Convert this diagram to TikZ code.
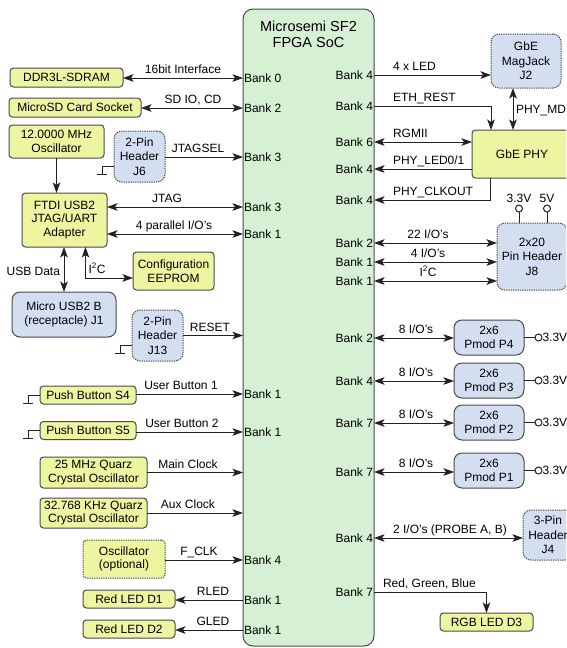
\documentclass[tikz,border=0pt]{standalone}
\usepackage{fontspec}
\setmainfont{Liberation Sans}
\usetikzlibrary{arrows.meta}
\definecolor{yfill}{HTML}{EEF5A0}
\definecolor{bfill}{HTML}{D3DEF1}
\definecolor{gfill}{HTML}{D5F0D3}
\definecolor{edgec}{HTML}{4A4A4A}
\definecolor{linec}{HTML}{222222}
\begin{document}
\begin{tikzpicture}[x=1pt,y=-1pt, font=\fontsize{12}{13.5}\selectfont,
  every node/.style={inner sep=0pt, outer sep=0pt},
  blk/.style={draw=edgec, line width=1pt, align=center},
  ylw/.style={blk, fill=yfill, rounded corners=3.5pt},
  blu/.style={blk, fill=bfill, rounded corners=8pt},
  dsh/.style={dash pattern=on 1.3pt off 1pt},
  hdr/.style={blu, dsh, font=\fontsize{12}{14.5}\selectfont},
  bankl/.style={anchor=west},
  bankr/.style={anchor=east},
  lbl/.style={anchor=base},
  lblw/.style={anchor=base west},
  ln/.style={line width=1pt, draw=linec},
  arr/.style={ln, -{Stealth[length=10.5pt,width=7.5pt,inset=2.5pt]}},
  dbl/.style={ln, {Stealth[length=10.5pt,width=7.5pt,inset=2.5pt]}-{Stealth[length=10.5pt,width=7.5pt,inset=2.5pt]}},
  gnd/.pic={\draw[ln] (0,0) -- (-12,0) -- (-12,8); \draw[ln] (-17,8) -- (-7,8);},
  pu/.style={draw=linec, line width=1pt, circle, minimum size=7pt, fill=white}
]
\useasboundingbox (0,0) rectangle (566,648);
\clip (0,0) rectangle (566,648);
\fill[white] (0,0) rectangle (566,648);

% FPGA
\node[blk, fill=gfill, rounded corners=10pt, minimum width=131pt, minimum height=637pt] (fpga) at (308.5,327.5) {};
\node[font=\fontsize{14.5}{16}\selectfont, align=center] (title) at (308.5,34) {Microsemi SF2\\FPGA SoC};

% left boxes
\node[ylw, minimum width=113pt, minimum height=19pt] (ddr) at (66.5,77.5) {DDR3L-SDRAM};
\node[ylw, minimum width=132pt, minimum height=19pt] (sd) at (75,107.5) {MicroSD Card Socket};
\node[ylw, minimum width=95pt, minimum height=33pt] (osc12) at (56.5,141.5) {12.0000 MHz\\Oscillator};
\node[hdr, minimum width=51pt, minimum height=51pt] (j6) at (139.5,156.5) {2-Pin\\Header\\J6};
\node[ylw, minimum width=85pt, minimum height=54pt] (ftdi) at (64.5,220) {FTDI USB2\\JTAG/UART\\Adapter};
\node[ylw, minimum width=81pt, minimum height=38pt] (eeprom) at (173.5,271) {Configuration\\EEPROM};
\node[blu, minimum width=104pt, minimum height=45pt] (usbb) at (64,314.5) {Micro USB2 B\\(receptacle) J1};
\node[hdr, minimum width=51pt, minimum height=51pt] (j13) at (157.5,335.5) {2-Pin\\Header\\J13};
\node[ylw, minimum width=96pt, minimum height=18pt] (s4) at (88,395) {Push Button S4};
\node[ylw, minimum width=96pt, minimum height=18pt] (s5) at (88,430.5) {Push Button S5};
\node[ylw, minimum width=107pt, minimum height=31pt] (osc25) at (93.5,472.5) {25 MHz Quarz\\Crystal Oscillator};
\node[ylw, minimum width=107pt, minimum height=30pt] (osc32) at (93.5,513) {32.768 KHz Quarz\\Crystal Oscillator};
\node[ylw, dsh, minimum width=82pt, minimum height=38pt] (oscopt) at (124,559) {Oscillator\\(optional)};
\node[ylw, minimum width=92pt, minimum height=18pt] (led1) at (129,599) {Red LED D1};
\node[ylw, minimum width=92pt, minimum height=18pt] (led2) at (129,629) {Red LED D2};

% right boxes
\node[hdr, minimum width=70pt, minimum height=54pt] (magjack) at (526,61) {GbE\\MagJack\\J2};
\node[ylw, minimum width=100pt, minimum height=48pt] (phy) at (522,154) {GbE PHY};
\node[hdr, minimum width=70pt, minimum height=67pt] (j8) at (532,256.5) {2x20\\Pin Header\\J8};
\node[blu, minimum width=70pt, minimum height=35pt] (p4) at (489,337.5) {2x6\\Pmod P4};
\node[blu, minimum width=70pt, minimum height=35pt] (p3) at (489,380.5) {2x6\\Pmod P3};
\node[blu, minimum width=70pt, minimum height=35pt] (p2) at (489,422.5) {2x6\\Pmod P2};
\node[blu, minimum width=70pt, minimum height=35pt] (p1) at (489,470.5) {2x6\\Pmod P1};
\node[hdr, minimum width=50pt, minimum height=50pt] (j4) at (548,535) {3-Pin\\Header\\J4};
\node[ylw, minimum width=93pt, minimum height=18pt] (rgb) at (486.5,622) {RGB LED D3};

% left bank labels
\node[bankl] (bL1) at (244,78) {Bank 0};
\node[bankl] (bL2) at (244,108) {Bank 2};
\node[bankl] (bL3) at (244,157) {Bank 3};
\node[bankl] (bL4) at (244,207) {Bank 3};
\node[bankl] (bL5) at (244,234) {Bank 1};
\node[bankl] (bL6) at (244,394) {Bank 1};
\node[bankl] (bL7) at (244,432) {Bank 1};
\node[bankl] (bL8) at (244,560) {Bank 4};
\node[bankl] (bL9) at (244,600) {Bank 1};
\node[bankl] (bL10) at (244,630) {Bank 1};

% right bank labels
\node[bankr] (bR1) at (373,75) {Bank 4};
\node[bankr] (bR2) at (373,106) {Bank 4};
\node[bankr] (bR3) at (373,142) {Bank 6};
\node[bankr] (bR4) at (373,169) {Bank 4};
\node[bankr] (bR5) at (373,200) {Bank 4};
\node[bankr] (bR6) at (373,243) {Bank 2};
\node[bankr] (bR7) at (373,262) {Bank 1};
\node[bankr] (bR8) at (373,281) {Bank 1};
\node[bankr] (bR9) at (373,338) {Bank 2};
\node[bankr] (bR10) at (373,381) {Bank 4};
\node[bankr] (bR11) at (373,423) {Bank 7};
\node[bankr] (bR12) at (373,472) {Bank 7};
\node[bankr] (bR13) at (373,538) {Bank 4};
\node[bankr] (bR14) at (373,592) {Bank 7};

% left connectors
\draw[dbl] (ddr.east |- bL1) -- (fpga.west |- bL1);
\draw[dbl] (sd.east |- bL2) -- (fpga.west |- bL2);
\draw[arr] (j6.east |- bL3) -- (fpga.west |- bL3);
\draw[dbl] (ftdi.east |- bL4) -- (fpga.west |- bL4);
\draw[dbl] (ftdi.east |- bL5) -- (fpga.west |- bL5);
\draw[arr] (osc12.south) -- (osc12.south |- ftdi.north);
\draw[dbl] (usbb.north |- ftdi.south) -- (usbb.north);
\coordinate (i2cx) at ([xshift=21pt]ftdi.south);
\coordinate (i2cy) at ([yshift=-7pt]eeprom.west);
\draw[dbl] (i2cx) |- (i2cy);
\draw[arr] (j13.east) -- (j13.east -| fpga.west);
\draw[arr] (s4.east |- bL6) -- (fpga.west |- bL6);
\draw[arr] (s5.east |- bL7) -- (fpga.west |- bL7);
\draw[arr] (osc25.east) -- (osc25.east -| fpga.west);
\draw[arr] (osc32.east) -- (osc32.east -| fpga.west);
\draw[arr] (oscopt.east |- bL8) -- (fpga.west |- bL8);
\draw[arr] (fpga.west |- bL9) -- (led1.east |- bL9);
\draw[arr] (fpga.west |- bL10) -- (led2.east |- bL10);

\pic at ([yshift=-9.5pt]j6.west) {gnd};
\pic at ([yshift=-9.5pt]j13.west) {gnd};
\pic at (s4.west) {gnd};
\pic at (s5.west) {gnd};

% left labels
\node[lbl] (l1) at (183,73) {16bit Interface};
\node[lbl] (l2) at (193,103) {SD IO, CD};
\node[lbl] (l3) at (198,152) {JTAGSEL};
\node[lbl] (l4) at (167,202) {JTAG};
\node[lbl] (l5) at (174,229) {4 parallel I/O's};
\node[anchor=base east] (l6) at (60,275) {USB Data};
\node[lblw] (l7) at (88.5,273) {I\textsuperscript{2}C};
\node[lbl] (l8) at (210,331) {RESET};
\node[lbl] (l9) at (181,389) {User Button 1};
\node[lbl] (l10) at (182,427) {User Button 2};
\node[lbl] (l11) at (188,468) {Main Clock};
\node[lbl] (l12) at (188,508) {Aux Clock};
\node[lbl] (l13) at (199,555) {F\_CLK};
\node[lbl] (l14) at (213,595) {RLED};
\node[lbl] (l15) at (213,625) {GLED};

% right connectors
\draw[arr] (fpga.east |- bR1) -- (magjack.west |- bR1);
\coordinate (ethx) at ([xshift=19pt]phy.north west);
\draw[arr] (fpga.east |- bR2) -| (ethx);
\coordinate (mdtop) at ([xshift=-13pt]magjack.south);
\draw[dbl] (mdtop) -- (mdtop |- phy.north);
\draw[dbl] (fpga.east |- bR3) -- (phy.west |- bR3);
\draw[arr] (phy.west |- bR4) -- (fpga.east |- bR4);
\coordinate (clkx) at ([xshift=18pt]phy.south west);
\draw[arr] (clkx) |- (fpga.east |- bR5);
\draw[dbl] (fpga.east |- bR6) -- (j8.west |- bR6);
\draw[dbl] (fpga.east |- bR7) -- (j8.west |- bR7);
\draw[dbl] (fpga.east |- bR8) -- (j8.west |- bR8);
\draw[dbl] (fpga.east |- bR9) -- (p4.west |- bR9);
\draw[dbl] (fpga.east |- bR10) -- (p3.west |- bR10);
\draw[dbl] (fpga.east |- bR11) -- (p2.west |- bR11);
\draw[dbl] (fpga.east |- bR12) -- (p1.west |- bR12);
\draw[dbl] (fpga.east |- bR13) -- (j4.west |- bR13);
\draw[arr] (fpga.east |- bR14) -| (rgb.north);

% pull-ups J8
\node[pu] (pu1) at (519,208.5) {};
\node[pu] (pu2) at (547,208.5) {};
\draw[ln] (pu1.south) -- (pu1.south |- j8.north);
\draw[ln] (pu2.south) -- (pu2.south |- j8.north);
\node[lbl] (v1) at (519,202) {3.3V};
\node[lbl] (v2) at (547,202) {5V};

% pull-ups Pmods
\foreach \p/\y in {p4/337.5, p3/380.5, p2/422.5, p1/470.5} {
  \node[pu] (c\p) at (538.5,\y) {};
  \draw[ln] (\p.east) -- (c\p.west);
  \node[anchor=west] (v\p) at ([xshift=0.5pt]c\p.east) {3.3V};
}

% right labels
\node[lblw] (r1) at (393,70) {4 x LED};
\node[lblw] (r2) at (393,101) {ETH\_REST};
\node[lblw] (r3) at (516,113) {PHY\_MDI};
\node[lblw] (r4) at (393,137.5) {RGMII};
\node[lblw] (r5) at (393,164.5) {PHY\_LED0/1};
\node[lblw] (r6) at (393,195.5) {PHY\_CLKOUT};
\node[lbl] (r7) at (428,238) {22 I/O's};
\node[lbl] (r8) at (428,257) {4 I/O's};
\node[lbl] (r9) at (428,276) {I\textsuperscript{2}C};
\node[lbl] (r10) at (416,333) {8 I/O's};
\node[lbl] (r11) at (416,376) {8 I/O's};
\node[lbl] (r12) at (416,418) {8 I/O's};
\node[lbl] (r13) at (416,467) {8 I/O's};
\node[lbl] (r14) at (450,533) {2 I/O's (PROBE A, B)};
\node[lblw] (r15) at (383,587.5) {Red, Green, Blue};
\end{tikzpicture}
\end{document}
